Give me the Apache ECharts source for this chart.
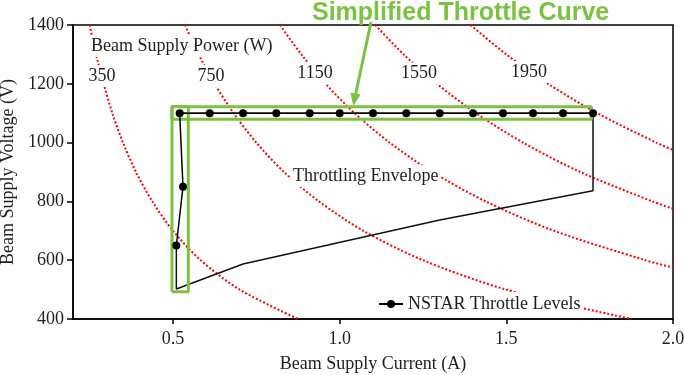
<!DOCTYPE html>
<html>
<head>
<meta charset="utf-8">
<script src="https://cdn.jsdelivr.net/npm/echarts@6/dist/echarts.min.js"></script>
<style>
html,body{margin:0;padding:0;background:#fff;}
#c{width:685px;height:375px;}
</style>
</head>
<body>
<div id="c"></div>
<script>
// ---- data ----
const xTicks = [0.5, 1.0, 1.5, 2.0];
const yTicks = [400, 600, 800, 1000, 1200, 1400];
const powerLabels = ['350', '750', '1150', '1550', '1950'];

// constant beam-power contours [current A, voltage V]
const curve350  = [[0.25,1400],[0.269,1300],[0.292,1200],[0.318,1100],[0.35,1000],[0.389,900],[0.438,800],[0.5,700],[0.583,600],[0.70,500],[0.875,400]];
const curve750  = [[0.536,1400],[0.577,1300],[0.625,1200],[0.682,1100],[0.75,1000],[0.833,900],[0.938,800],[1.071,700],[1.25,600],[1.50,500],[1.875,400]];
const curve1150 = [[0.821,1400],[0.885,1300],[0.958,1200],[1.045,1100],[1.15,1000],[1.278,900],[1.438,800],[1.643,700],[1.917,600],[2.0,575]];
const curve1550 = [[1.107,1400],[1.192,1300],[1.292,1200],[1.409,1100],[1.55,1000],[1.722,900],[1.938,800],[2.0,775]];
const curve1950 = [[1.393,1400],[1.50,1300],[1.625,1200],[1.773,1100],[1.95,1000],[2.0,975]];

// throttling envelope outline
const envelope = [[0.52,1100],[1.76,1100],[1.76,836],[1.30,737],[0.71,587],[0.51,502],[0.51,650]];

// NSTAR throttle levels
const throttleI = [0.51, 0.53, 0.52, 0.61, 0.71, 0.81, 0.91, 1.00, 1.10, 1.20, 1.30, 1.40, 1.49, 1.58, 1.67, 1.76];
const throttleV = [650, 850, 1100, 1100, 1100, 1100, 1100, 1100, 1100, 1100, 1100, 1100, 1100, 1100, 1100, 1100];

// highlight boxes (simplified throttle curve)
const boxVertical   = [[0.497,493],[0.546,493],[0.546,1123],[0.497,1123],[0.497,493]];
const boxHorizontal = [[0.497,1079],[1.755,1079],[1.755,1122],[0.497,1122],[0.497,1079]];

// ---- chart ----
const SERIF = '"Liberation Serif", "Times New Roman", serif';
const GREEN = '#7cc242';
const RED = '#ff0000';
const TXT = '#1e1e1e';

const chart = echarts.init(document.getElementById('c'), null, {renderer: 'canvas'});

const curveStyle = {color: RED, width: 2, type: [2, 2]};
function contour(name, data) {
  return {name: name, type: 'line', data: data, smooth: 0.3, showSymbol: false, silent: true,
          lineStyle: curveStyle, z: 1, clip: true};
}

const throttleData = throttleI.map((v, i) => [v, throttleV[i]]);

chart.setOption({
  animation: false,
  backgroundColor: '#fff',
  grid: {left: 73, right: 12, top: 25, bottom: 56, containLabel: false, outerBoundsMode: 'none',
         show: true, borderColor: '#000', borderWidth: 1.5, backgroundColor: 'transparent'},
  xAxis: {
    type: 'value', min: 0.2, max: 2.0,
    name: 'Beam Supply Current (A)', nameLocation: 'middle', nameGap: 36,
    nameTextStyle: {fontFamily: SERIF, fontSize: 18, color: TXT},
    axisLine: {lineStyle: {color: '#000', width: 1.5}},
    axisTick: {show: true, inside: false, length: 5, customValues: xTicks, lineStyle: {color: '#000', width: 1.5}},
    axisLabel: {customValues: xTicks, formatter: v => v.toFixed(1), fontFamily: SERIF, fontSize: 18, color: TXT, margin: 11},
    splitLine: {show: false}
  },
  yAxis: {
    type: 'value', min: 400, max: 1400, interval: 200,
    name: 'Beam Supply Voltage (V)', nameLocation: 'middle', nameGap: 56,
    nameTextStyle: {fontFamily: SERIF, fontSize: 18, color: TXT},
    axisLine: {show: true, lineStyle: {color: '#000', width: 1.5}},
    axisTick: {show: true, inside: false, length: 6, lineStyle: {color: '#000', width: 1.5}},
    axisLabel: {formatter: v => String(v), fontFamily: SERIF, fontSize: 18, color: TXT, margin: 9},
    splitLine: {show: false}
  },
  legend: {
    data: [{name: 'NSTAR Throttle Levels'}],
    left: 375, top: 292, padding: [3, 3],
    backgroundColor: '#fff', z: 20,
    itemWidth: 24, itemHeight: 10, itemGap: 5,
    textStyle: {fontFamily: SERIF, fontSize: 18, color: TXT}
  },
  series: [
    contour('P350', curve350),
    contour('P750', curve750),
    contour('P1150', curve1150),
    contour('P1550', curve1550),
    contour('P1950', curve1950),
    {name: 'Envelope', type: 'line', data: envelope, showSymbol: false, silent: true,
     lineStyle: {color: '#111', width: 1.5}, z: 2},
    {name: 'BoxV', type: 'line', data: boxVertical, showSymbol: false, silent: true,
     lineStyle: {color: GREEN, width: 3}, z: 3},
    {name: 'BoxH', type: 'line', data: boxHorizontal, showSymbol: false, silent: true,
     lineStyle: {color: GREEN, width: 3}, z: 3},
    {name: 'NSTAR Throttle Levels', type: 'line', data: throttleData,
     symbol: 'circle', symbolSize: 8, showAllSymbol: true,
     lineStyle: {color: '#000', width: 1.5}, itemStyle: {color: '#000'}, z: 4}
  ]
});

// annotation texts
function label(text, x, y, align) {
  return {type: 'text', z: 50, style: {text: text, x: x, y: y, align: align || 'center', verticalAlign: 'middle',
          font: '18px ' + SERIF, fill: TXT, backgroundColor: '#fff', padding: [2, 2]}};
}
const labelPos = [[102, 76], [211, 76], [315, 73.5], [419, 73.5], [529, 72]];
const graphics = [
  label('Beam Supply Power (W)', 89, 46, 'left'),
  label('Throttling Envelope', 291, 176, 'left')
];
powerLabels.forEach((t, i) => graphics.push(label(t, labelPos[i][0], labelPos[i][1])));

// title + arrow
graphics.push({type: 'text', z: 60, style: {text: 'Simplified Throttle Curve', x: 312, y: 13, align: 'left', verticalAlign: 'middle',
               font: 'bold 25px "Liberation Sans", Arial, sans-serif', fill: GREEN}});
graphics.push({type: 'line', z: 60, shape: {x1: 371, y1: 22, x2: 355.5, y2: 95}, style: {stroke: GREEN, lineWidth: 3}});
graphics.push({type: 'polygon', z: 60, shape: {points: [[353.3, 106], [360.6, 94.4], [350.4, 92.4]]}, style: {fill: GREEN}});

chart.setOption({graphic: graphics});
</script>
</body>
</html>
